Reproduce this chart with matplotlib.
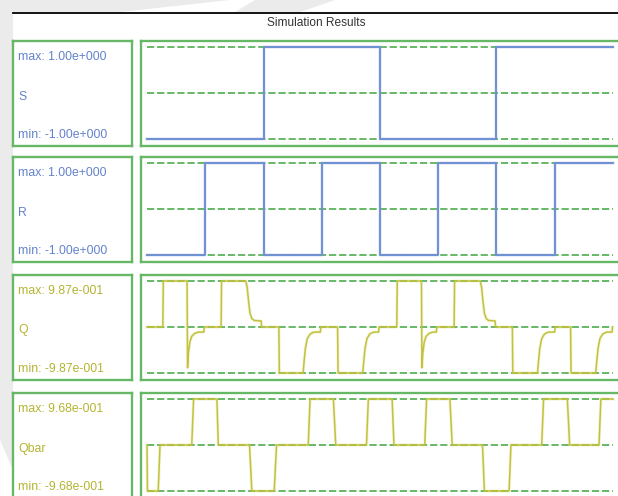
import matplotlib
matplotlib.use("Agg")
import matplotlib.pyplot as plt
from matplotlib.lines import Line2D
from matplotlib.patches import Polygon

# ---------------- data ----------------
signal_names = ["S", "R", "Q", "Qbar"]
signal_max = [1.0, 1.0, 0.987, 0.968]
signal_min = [-1.0, -1.0, -0.987, -0.968]
max_labels = ["max: 1.00e+000", "max: 1.00e+000", "max: 9.87e-001", "max: 9.68e-001"]
min_labels = ["min: -1.00e+000", "min: -1.00e+000", "min: -9.87e-001", "min: -9.68e-001"]

# S : step signal (time as fraction of run, value)
s_t = [0.0, 0.25, 0.25, 0.50, 0.50, 0.75, 0.75, 1.0]
s_v = [-1, -1, 1, 1, -1, -1, 1, 1]

# R : step signal
r_t = [0.0, 0.125, 0.125, 0.25, 0.25, 0.375, 0.375, 0.5, 0.5, 0.625, 0.625,
       0.75, 0.75, 0.875, 0.875, 1.0]
r_v = [-1, -1, 1, 1, -1, -1, 1, 1, -1, -1, 1, 1, -1, -1, 1, 1]

# Q : analog response
q_t = [0.000, 0.034, 0.035, 0.086, 0.087, 0.089, 0.092, 0.096, 0.102, 0.110, 0.122, 0.123,
       0.159, 0.160, 0.212, 0.215, 0.218, 0.221, 0.225, 0.230, 0.245, 0.246,
       0.283, 0.284, 0.335, 0.337, 0.340, 0.344, 0.350, 0.358, 0.372, 0.373,
       0.409, 0.410, 0.463, 0.465, 0.468, 0.472, 0.478, 0.486, 0.497, 0.498,
       0.536, 0.537, 0.589, 0.590, 0.592, 0.595, 0.599, 0.605, 0.613, 0.621, 0.622,
       0.659, 0.660, 0.715, 0.718, 0.721, 0.724, 0.728, 0.733, 0.747, 0.748,
       0.784, 0.785, 0.838, 0.840, 0.843, 0.847, 0.853, 0.861, 0.875, 0.876,
       0.909, 0.910, 0.963, 0.965, 0.968, 0.972, 0.978, 0.986, 0.998, 0.999]
q_v = [0.0, 0.0, 0.987, 0.987, -0.874, -0.55, -0.32, -0.20, -0.14, -0.11, -0.108, 0.0,
       0.0, 0.987, 0.987, 0.85, 0.55, 0.30, 0.18, 0.14, 0.13, 0.0,
       0.0, -0.987, -0.987, -0.75, -0.45, -0.25, -0.15, -0.11, -0.108, 0.0,
       0.0, -0.987, -0.987, -0.75, -0.45, -0.25, -0.15, -0.11, -0.108, 0.0,
       0.0, 0.987, 0.987, -0.874, -0.55, -0.32, -0.20, -0.14, -0.11, -0.108, 0.0,
       0.0, 0.987, 0.987, 0.85, 0.55, 0.30, 0.18, 0.14, 0.13, 0.0,
       0.0, -0.987, -0.987, -0.75, -0.45, -0.25, -0.15, -0.11, -0.108, 0.0,
       0.0, -0.987, -0.987, -0.75, -0.45, -0.25, -0.15, -0.11, -0.108, 0.0]

# Qbar : analog response
qb_t = [0.000, 0.001, 0.024, 0.028, 0.096, 0.100, 0.150, 0.153, 0.220, 0.225, 0.273, 0.278,
        0.346, 0.350, 0.400, 0.405, 0.471, 0.475, 0.526, 0.530, 0.596, 0.600, 0.650, 0.655,
        0.720, 0.724, 0.777, 0.781, 0.847, 0.851, 0.902, 0.907, 0.970, 0.974, 1.000]
qb_v = [0.0, -0.968, -0.968, 0.0, 0.0, 0.968, 0.968, 0.0, 0.0, -0.968, -0.968, 0.0,
        0.0, 0.968, 0.968, 0.0, 0.0, 0.968, 0.968, 0.0, 0.0, 0.968, 0.968, 0.0,
        0.0, -0.968, -0.968, 0.0, 0.0, 0.968, 0.968, 0.0, 0.0, 0.968, 0.968]

series_t = [s_t, r_t, q_t, qb_t]
series_v = [s_v, r_v, q_v, qb_v]

# ---------------- styling ----------------
W, H = 618, 496
BLUE = "#7090d4"
OLIVE = "#c2c23c"
BLUE_TXT = "#6282cc"
OLIVE_TXT = "#b4b432"
GREEN = "#66b866"
DASH_GREEN = "#5cb25c"
line_colors = [BLUE, BLUE, OLIVE, OLIVE]
line_widths = [1.4, 1.4, 1.1, 1.1]
text_colors = [BLUE_TXT, BLUE_TXT, OLIVE_TXT, OLIVE_TXT]
row_tops = [41, 157, 275, 393]
ROW_H = 105

plt.rcParams['font.family'] = ['Liberation Sans', 'DejaVu Sans']

fig = plt.figure(figsize=(W / 100, H / 100), dpi=100)
fig.patch.set_facecolor("white")


def px_axes(x0, y0, w, h):
    return fig.add_axes([x0 / W, 1 - (y0 + h) / H, w / W, h / H])


# faint watermark in the background
for pts in [
    [(0, 0), (230, 0), (120, 12), (0, 12)],
    [(255, 0), (335, 0), (300, 12), (235, 12)],
    [(0, 12), (13, 12), (13, 470), (0, 440)],
]:
    fig.add_artist(Polygon([(x / W, 1 - y / H) for x, y in pts], closed=True,
                           transform=fig.transFigure, facecolor="#ebebeb",
                           edgecolor="none", zorder=0))

# top black rule and title
fig.add_artist(Line2D([13 / W, 1.0], [1 - 12.5 / H] * 2, color="black", lw=1.3))
fig.text(316 / W, 1 - 23 / H, "Simulation Results", ha="center", va="center",
         fontsize=8.6, color="#333333")

x_lo = (141 - 147) / 466
x_hi = (625 - 147) / 466

for i in range(4):
    top = row_tops[i]
    vmax, vmin = signal_max[i], signal_min[i]
    rng = vmax - vmin

    # left label box
    lab = px_axes(13, top, 119, ROW_H)
    lab.set_xticks([]); lab.set_yticks([])
    for sp in lab.spines.values():
        sp.set_color(GREEN); sp.set_linewidth(1.7)
    lab.text(5 / 119, 1 - 16 / ROW_H, max_labels[i], transform=lab.transAxes,
             ha="left", va="center", fontsize=8.8, color=text_colors[i])
    lab.text(5 / 119, 1 - 55.5 / ROW_H, signal_names[i], transform=lab.transAxes,
             ha="left", va="center", fontsize=8.8, color=text_colors[i])
    lab.text(5 / 119, 1 - 94 / ROW_H, min_labels[i], transform=lab.transAxes,
             ha="left", va="center", fontsize=8.8, color=text_colors[i])

    # waveform panel
    ax = px_axes(141, top, 484, ROW_H)
    ax.set_xticks([]); ax.set_yticks([])
    for sp in ax.spines.values():
        sp.set_color(GREEN); sp.set_linewidth(1.7)
    ax.set_xlim(x_lo, x_hi)
    ax.set_ylim(vmin - 7 / 92 * rng, vmax + 6 / 92 * rng)
    for lvl in (vmax, (vmax + vmin) / 2, vmin):
        ax.plot([0, 1], [lvl, lvl], color=DASH_GREEN, lw=1.3, ls=(0, (4, 1.6)), zorder=2)
    ax.plot(series_t[i], series_v[i], color=line_colors[i], lw=line_widths[i] + 1.2,
            alpha=0.18, zorder=3)
    ax.plot(series_t[i], series_v[i], color=line_colors[i], lw=line_widths[i], zorder=4)

fig.savefig("out.png", dpi=100)
